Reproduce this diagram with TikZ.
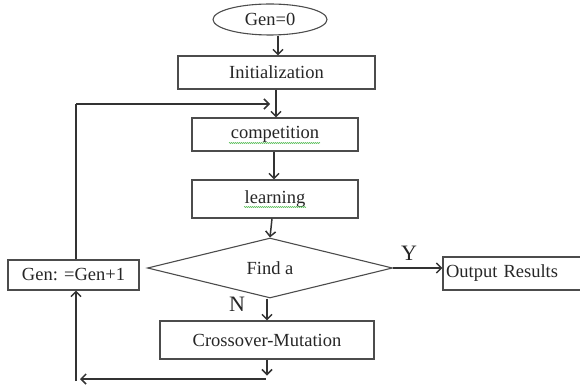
\documentclass[tikz,border=0pt]{standalone}
\usepackage{fontspec}
\setmainfont{Liberation Serif}
\usetikzlibrary{shapes.geometric,arrows.meta,decorations.pathmorphing}
\tikzset{
  stepbox/.style={draw=black!70,line width=1.1pt,rectangle,inner sep=0pt},
  arrow/.style={draw=black!80,line width=1.5pt,-{Straight Barb[length=5pt,width=10pt]}},
  line/.style={draw=black!80,line width=1.5pt},
  spell/.style={draw=green!60!black!70,line width=0.5pt,decorate,decoration={zigzag,amplitude=0.6pt,segment length=2pt}},
  answer/.style={font=\fontsize{22}{24}\selectfont}
}
\begin{document}
\begin{tikzpicture}[x=1pt,y=-1pt,font=\fontsize{18.5}{20}\selectfont,text=black!85]
\useasboundingbox (0,0) rectangle (580,387);
% Draw nodes
\node[draw=black!70,line width=1.1pt,ellipse,minimum width=114pt,minimum height=31pt,inner sep=0pt] (gen0) at (270,19.5) {Gen=0};
\node[stepbox,minimum width=197pt,minimum height=33pt] (init) at (276.5,72.5) {Initialization};
\node[stepbox,minimum width=166pt,minimum height=33pt] (comp) at (275,134.5) {competition};
\node[stepbox,minimum width=166pt,minimum height=38pt] (learn) at (275,199) {learning};
\node[draw=black!70,line width=1.1pt,diamond,aspect=4.08,minimum width=245pt,minimum height=60pt,inner sep=0pt] (find) at (270,268) {Find a};
\node[stepbox,minimum width=131pt,minimum height=30pt] (gen1) at (73.5,275) {Gen: =Gen+1};
\node[stepbox,minimum width=160pt,minimum height=33pt,text width=154pt,align=left,inner xsep=3pt] (out) at (523,273.5) {Output Results};
\node[stepbox,minimum width=214pt,minimum height=38pt] (cross) at (267,340) {Crossover-Mutation};
% Spell check marks
\draw[spell] (229,143) -- (320,143);
\draw[spell] (244,207) -- (306,207);
% Loop coordinates
\coordinate (looptop) at (76,104);
\coordinate (loopin) at (270,104);
\coordinate (bot) at (266,379);
\coordinate (botleft) at (80,379);
\coordinate (botcorner) at (76,381);
% Draw connectors
\draw[arrow] ([xshift=8pt]gen0.south) -- ([xshift=8pt]gen0.south |- init.north);
\draw[arrow] ([xshift=-0.5pt]init.south) -- ([xshift=-0.5pt]init.south |- comp.north);
\draw[arrow] ([xshift=-1pt]comp.south) -- ([xshift=-1pt]comp.south |- learn.north);
\draw[arrow] ([xshift=-3pt]learn.south) -- (find.north);
\draw[arrow] (find.east) -- (find.east -| out.west);
\node[answer] (ylabel) at (409,253) {Y};
\draw[arrow] ([xshift=-3pt]find.south) -- ([xshift=-3pt]find.south |- cross.north);
\node[answer] (nlabel) at (237,304) {N};
\draw[arrow] (cross.south) -- ++(0,16);
\draw[arrow] (bot) -- (botleft);
\draw[arrow] (botcorner) -- ([xshift=2.5pt]gen1.south);
\draw[line] ([xshift=2.5pt]gen1.north) -- (looptop);
\draw[arrow] (looptop) -- (loopin);
\end{tikzpicture}
\end{document}
